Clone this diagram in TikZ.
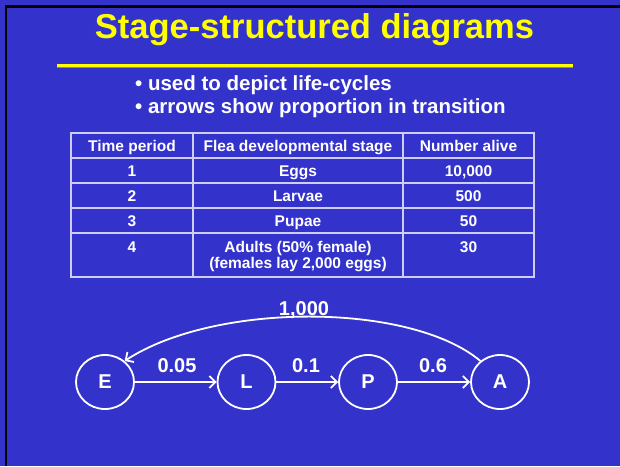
\documentclass[tikz,border=0pt]{standalone}
\usepackage{fontspec}
\setmainfont{Liberation Sans}
\usetikzlibrary{arrows.meta,shapes.geometric}
\definecolor{bgblue}{RGB}{51,51,204}
\definecolor{ttl}{RGB}{255,255,0}
\definecolor{tline}{RGB}{205,205,245}
\definecolor{shadowgray}{RGB}{140,140,120}
\tikzset{
  txt/.style={text=white,font=\bfseries\fontsize{15.5}{16}\selectfont,inner sep=0pt,anchor=base},
  bul/.style={text=white,font=\bfseries\fontsize{20.5}{22}\selectfont,inner sep=0pt,anchor=base west},
  lbl/.style={text=white,font=\bfseries\fontsize{20}{22}\selectfont,inner sep=0pt,anchor=base},
  stage/.style={ellipse,draw=white,line width=1.8pt,minimum width=58pt,minimum height=54pt,inner sep=0pt,text=white,font=\bfseries\fontsize{20}{22}\selectfont},
  arr/.style={draw=white,line width=1.8pt,-{Straight Barb[length=6pt,width=12pt,line width=1.8pt]}},
  grid/.style={draw=tline,line width=1.4pt}
}
\begin{document}
\begin{tikzpicture}[x=1pt,y=-1pt]
\useasboundingbox (0,0) rectangle (620,466);
\fill[bgblue] (0,0) rectangle (620,466);
% black frame (top and left)
\fill[black] (4.5,4.5) rectangle (620,7.5);
\fill[black] (4.5,4.5) rectangle (7,466);
% title
\node[text=ttl,font=\bfseries\fontsize{34.5}{36}\selectfont,inner sep=0pt,anchor=base] (title) at (314.5,38) {Stage-structured diagrams};
% rule
\fill[ttl] (57,64) rectangle (573,66.5);
\fill[shadowgray] (57,66.5) rectangle (573,67.5);
% bullets
\node[bul] (b1) at (135,90) {• used to depict life-cycles};
\node[bul] (b2) at (135,113) {• arrows show proportion in transition};
% table grid
\draw[grid] (71,133) rectangle (534,277);
\foreach \yy in {158,183,208,233} \draw[grid] (71,\yy) -- (534,\yy);
\draw[grid] (193,133) -- (193,277);
\draw[grid] (403,133) -- (403,277);
% table text
\node[txt] (h1) at (132,151) {Time period};
\node[txt] (h2) at (298,151) {Flea developmental stage};
\node[txt] (h3) at (468.5,151) {Number alive};
\node[txt] (r1a) at (132,176.5) {1};
\node[txt] (r1b) at (298,176.5) {Eggs};
\node[txt] (r1c) at (468.5,176.5) {10,000};
\node[txt] (r2a) at (132,201.5) {2};
\node[txt] (r2b) at (298,201.5) {Larvae};
\node[txt] (r2c) at (468.5,201.5) {500};
\node[txt] (r3a) at (132,226.5) {3};
\node[txt] (r3b) at (298,226.5) {Pupae};
\node[txt] (r3c) at (468.5,226.5) {50};
\node[txt] (r4a) at (132,252) {4};
\node[txt] (r4b) at (298,252) {Adults (50\% female)};
\node[txt] (r4d) at (298,268) {(females lay 2,000 eggs)};
\node[txt] (r4c) at (468.5,252) {30};
% diagram
\node[stage] (E) at (105,382) {E};
\node[stage] (L) at (246.5,382) {L};
\node[stage] (P) at (368,382) {P};
\node[stage] (A) at (500,382) {A};
\draw[arr] (E) -- (L);
\draw[arr] (L) -- (P);
\draw[arr] (P) -- (A);
\draw[arr] (A.133) .. controls (410,302) and (215,302) .. (E.47);
\node[lbl] (l1) at (177,372) {0.05};
\node[lbl] (l2) at (306,372) {0.1};
\node[lbl] (l3) at (433,372) {0.6};
\node[lbl] (l4) at (304,315) {1,000};
\end{tikzpicture}
\end{document}
